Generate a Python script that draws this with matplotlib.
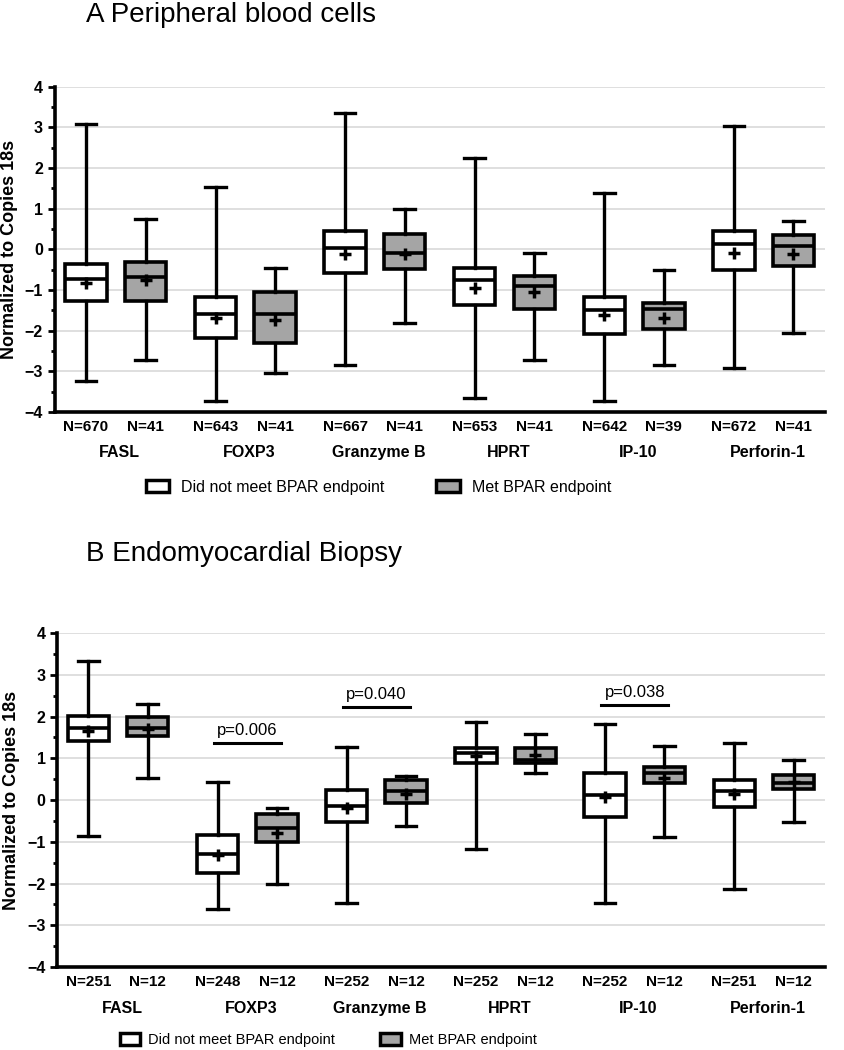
import matplotlib.pyplot as plt
from matplotlib.patches import Patch
from matplotlib.transforms import blended_transform_factory

plt.rcParams['font.family'] = ['Liberation Sans', 'DejaVu Sans']

genes = ["FASL", "FOXP3", "Granzyme B", "HPRT", "IP-10", "Perforin-1"]

# Panel A: peripheral blood cells  (not met / met)
a_n_no = [670, 643, 667, 653, 642, 672]
a_n_yes = [41, 41, 41, 41, 39, 41]
a_no_whislo = [-3.24, -3.74, -2.85, -3.65, -3.74, -2.93]
a_no_q1 = [-1.28, -2.19, -0.58, -1.37, -2.09, -0.51]
a_no_med = [-0.74, -1.58, 0.02, -0.76, -1.50, 0.13]
a_no_q3 = [-0.36, -1.18, 0.46, -0.45, -1.17, 0.46]
a_no_whishi = [3.07, 1.54, 3.36, 2.25, 1.39, 3.04]
a_no_mean = [-0.82, -1.70, -0.12, -0.95, -1.62, -0.09]
a_yes_whislo = [-2.73, -3.03, -1.80, -2.73, -2.85, -2.07]
a_yes_q1 = [-1.28, -2.30, -0.49, -1.46, -1.97, -0.41]
a_yes_med = [-0.68, -1.60, -0.09, -0.90, -1.46, 0.08]
a_yes_q3 = [-0.31, -1.04, 0.37, -0.65, -1.32, 0.35]
a_yes_whishi = [0.74, -0.45, 1.00, -0.09, -0.51, 0.69]
a_yes_mean = [-0.75, -1.74, -0.12, -1.06, -1.68, -0.12]

# Panel B: endomyocardial biopsy
b_n_no = [251, 248, 252, 252, 252, 251]
b_n_yes = [12, 12, 12, 12, 12, 12]
b_no_whislo = [-0.86, -2.60, -2.46, -1.16, -2.46, -2.14]
b_no_q1 = [1.42, -1.74, -0.52, 0.88, -0.40, -0.16]
b_no_med = [1.72, -1.28, -0.14, 1.12, 0.12, 0.22]
b_no_q3 = [2.02, -0.84, 0.24, 1.26, 0.64, 0.48]
b_no_whishi = [3.34, 0.44, 1.28, 1.88, 1.83, 1.36]
b_no_mean = [1.66, -1.32, -0.18, 1.06, 0.08, 0.14]
b_yes_whislo = [0.54, -2.00, -0.62, 0.66, -0.88, -0.52]
b_yes_q1 = [1.54, -1.00, -0.08, 0.88, 0.40, 0.26]
b_yes_med = [1.72, -0.68, 0.22, 0.96, 0.64, 0.40]
b_yes_q3 = [1.98, -0.34, 0.48, 1.26, 0.80, 0.61]
b_yes_whishi = [2.30, -0.18, 0.58, 1.58, 1.30, 0.96]
b_yes_mean = [1.70, -0.80, 0.14, 1.08, 0.54, 0.44]

b_pvals = ["p=0.006", "p=0.040", "p=0.038"]
b_pval_genes = [1, 2, 4]
b_pval_y = [1.36, 2.22, 2.28]

GRAY = "#a5a5a5"
OFF = 0.23


def stats(lo, q1, med, q3, hi, mean):
    return [dict(whislo=lo[i], q1=q1[i], med=med[i], q3=q3[i], whishi=hi[i],
                 mean=mean[i], fliers=[]) for i in range(len(lo))]


def panel(ax, no, yes, n_no, n_yes):
    pos_no = [i - OFF for i in range(len(genes))]
    pos_yes = [i + OFF for i in range(len(genes))]
    for st, pos, fc in [(no, pos_no, "white"), (yes, pos_yes, GRAY)]:
        ax.bxp(st, positions=pos, widths=0.32, patch_artist=True,
               showmeans=True, capwidths=0.16,
               boxprops=dict(facecolor=fc, edgecolor="black", linewidth=2.6),
               medianprops=dict(color="black", linewidth=2.6),
               whiskerprops=dict(color="black", linewidth=2.4),
               capprops=dict(color="black", linewidth=2.4),
               meanprops=dict(marker="+", markeredgecolor="black",
                              markersize=8, markeredgewidth=2.5),
               zorder=3)
    ax.set_xlim(-0.47, 5.47)
    ax.set_ylim(-4, 4)
    ax.set_yticks(range(-4, 5))
    ax.set_yticks([v / 2 for v in range(-8, 9)], minor=True)
    ax.tick_params(axis="y", which="major", length=5, width=2, labelsize=11.5)
    ax.tick_params(axis="y", which="minor", length=3, width=2)
    for lab in ax.get_yticklabels():
        lab.set_fontweight("bold")
    ax.yaxis.grid(True, color="#d9d9d9", linewidth=1.2, zorder=0)
    ax.set_axisbelow(True)
    for s in ["top", "right"]:
        ax.spines[s].set_visible(False)
    ax.spines["left"].set_linewidth(2.6)
    ax.spines["bottom"].set_linewidth(2.6)
    ax.set_xticks(pos_no + pos_yes)
    ax.set_xticklabels(["N=%d" % n for n in n_no] + ["N=%d" % n for n in n_yes],
                       fontsize=11, fontweight="bold")
    ax.tick_params(axis="x", length=0, pad=6)
    trans = blended_transform_factory(ax.transData, ax.transAxes)
    for i, g in enumerate(genes):
        ax.text(i + 0.03, -0.125, g, transform=trans, ha="center", va="center",
                fontsize=11.5, fontweight="bold")
    ax.set_ylabel("Normalized to Copies 18s", fontsize=13, fontweight="bold",
                  labelpad=5)


fig = plt.figure(figsize=(8.44, 10.5), dpi=100)
axA = fig.add_axes([0.065, 0.6076, 0.912, 0.310])
axB = fig.add_axes([0.068, 0.079, 0.909, 0.318])

panel(axA,
      stats(a_no_whislo, a_no_q1, a_no_med, a_no_q3, a_no_whishi, a_no_mean),
      stats(a_yes_whislo, a_yes_q1, a_yes_med, a_yes_q3, a_yes_whishi, a_yes_mean),
      a_n_no, a_n_yes)
panel(axB,
      stats(b_no_whislo, b_no_q1, b_no_med, b_no_q3, b_no_whishi, b_no_mean),
      stats(b_yes_whislo, b_yes_q1, b_yes_med, b_yes_q3, b_yes_whishi, b_yes_mean),
      b_n_no, b_n_yes)

for txt, g, y in zip(b_pvals, b_pval_genes, b_pval_y):
    axB.plot([g - OFF - 0.03, g + OFF + 0.03], [y, y], color="black", linewidth=2.2)
    axB.text(g, y + 0.12, txt, ha="center", va="bottom", fontsize=12)

fig.text(0.102, 0.998, "A Peripheral blood cells", fontsize=20, va="top")
fig.text(0.102, 0.485, "B Endomyocardial Biopsy", fontsize=20, va="top")

handles = [Patch(facecolor="white", edgecolor="black", linewidth=2.5),
           Patch(facecolor=GRAY, edgecolor="black", linewidth=2.5)]
labels = ["Did not meet BPAR endpoint", "Met BPAR endpoint"]
fig.legend(handles, labels, loc="center", bbox_to_anchor=(0.4485, 0.536), ncol=2,
           frameon=False, fontsize=11.5, handlelength=1.45, handleheight=0.8,
           handletextpad=0.75, columnspacing=3.25)
fig.legend(handles, labels, loc="center", bbox_to_anchor=(0.389, 0.0095), ncol=2,
           frameon=False, fontsize=10.5, handlelength=1.4, handleheight=0.8,
           handletextpad=0.55, columnspacing=3.1)

fig.savefig("out.png", dpi=100)
